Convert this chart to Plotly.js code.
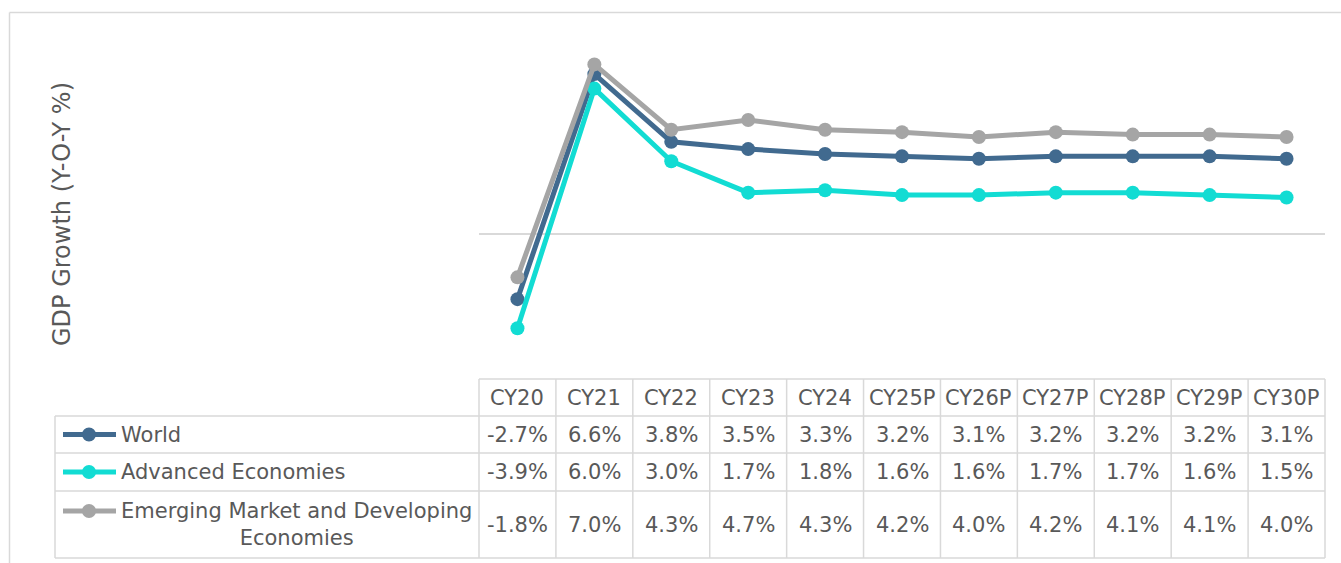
<!DOCTYPE html>
<html>
<head>
<meta charset="utf-8">
<script src="https://cdn.plot.ly/plotly-3.0.1.min.js"></script>
<style>
  body { margin: 0; background: #fff; }
  #chart { width: 1341px; height: 563px; }
</style>
</head>
<body>
<div id="chart"></div>
<script>
// GDP growth, y-o-y %
let categories = ['CY20','CY21','CY22','CY23','CY24','CY25P','CY26P','CY27P','CY28P','CY29P','CY30P'];
let world    = [-2.7, 6.6, 3.8, 3.5, 3.3, 3.2, 3.1, 3.2, 3.2, 3.2, 3.1];
let advanced = [-3.9, 6.0, 3.0, 1.7, 1.8, 1.6, 1.6, 1.7, 1.7, 1.6, 1.5];
let emerging = [-1.8, 7.0, 4.3, 4.7, 4.3, 4.2, 4.0, 4.2, 4.1, 4.1, 4.0];
let seriesNames = ['World', 'Advanced Economies', 'Emerging Market and Developing<br>Economies'];
let seriesColors = ['#416a8f', '#12dcd3', '#a5a5a5'];

const W = 1341, H = 563;
const textColor = '#595959';
const gridColor = '#d9d9d9';
const fontFam = 'DejaVu Sans, Verdana, sans-serif';

function px(x) { return x / W; }
function py(y) { return 1 - y / H; }

// table geometry (pixels)
let tabLeft = 55, colStart = 479, colEnd = 1325;
let colW = (colEnd - colStart) / categories.length;
let rowLines = [379, 416, 453, 491, 558];

let allSeries = [world, advanced, emerging];

let traces = [];
for (let s = 0; s < allSeries.length; s++) {
    traces.push({
        x: categories,
        y: allSeries[s],
        mode: 'lines+markers',
        type: 'scatter',
        hoverinfo: 'skip',
        line: { color: seriesColors[s], width: 5 },
        marker: { color: seriesColors[s], size: 14 },
        showlegend: false
    });
}

let shapes = [];
let annotations = [];

function line(x0, y0, x1, y1, color, width) {
    shapes.push({
        type: 'line', xref: 'paper', yref: 'paper',
        x0: px(x0), y0: py(y0), x1: px(x1), y1: py(y1),
        line: { color: color, width: width }
    });
}

// outer frame
line(9.5, 12.5, W + 2, 12.5, gridColor, 1.5);
line(9.5, 12.5, 9.5, H + 2, gridColor, 1.5);

// table horizontal lines
line(colStart, rowLines[0], colEnd, rowLines[0], gridColor, 1.5);
for (let r = 1; r < rowLines.length; r++) {
    line(tabLeft, rowLines[r], colEnd, rowLines[r], gridColor, 1.5);
}
// table vertical lines
line(tabLeft, rowLines[1], tabLeft, rowLines[4], gridColor, 1.5);
for (let c = 0; c <= categories.length; c++) {
    let xx = colStart + c * colW;
    line(xx, rowLines[0], xx, rowLines[4], gridColor, 1.5);
}

// header text
for (let c = 0; c < categories.length; c++) {
    annotations.push({
        xref: 'paper', yref: 'paper',
        x: px(colStart + (c + 0.5) * colW), y: py((rowLines[0] + rowLines[1]) / 2),
        text: categories[c], showarrow: false,
        xanchor: 'center', yanchor: 'middle',
        font: { family: fontFam, size: 21, color: textColor }
    });
}

// data rows + legend keys
for (let s = 0; s < allSeries.length; s++) {
    let yc = (rowLines[s + 1] + rowLines[s + 2]) / 2;
    let keyY = s == 2 ? rowLines[3] + 20 : yc;
    line(63, keyY, 116, keyY, seriesColors[s], 5);
    shapes.push({
        type: 'circle', xref: 'paper', yref: 'paper',
        x0: px(89 - 7), x1: px(89 + 7), y0: py(keyY - 7), y1: py(keyY + 7),
        fillcolor: seriesColors[s], line: { width: 0 }
    });
    annotations.push({
        xref: 'paper', yref: 'paper',
        x: px(119), y: py(yc),
        text: seriesNames[s], showarrow: false,
        xanchor: 'left', yanchor: 'middle', align: 'center',
        font: { family: fontFam, size: 21, color: textColor }
    });
    for (let c = 0; c < categories.length; c++) {
        annotations.push({
            xref: 'paper', yref: 'paper',
            x: px(colStart + (c + 0.5) * colW), y: py(yc),
            text: allSeries[s][c].toFixed(1) + '%', showarrow: false,
            xanchor: 'center', yanchor: 'middle',
            font: { family: fontFam, size: 21, color: textColor }
        });
    }
}

// y-axis title
annotations.push({
    xref: 'paper', yref: 'paper',
    x: px(62), y: py(214),
    text: 'GDP Growth (Y-O-Y %)', showarrow: false, textangle: -90,
    xanchor: 'center', yanchor: 'middle',
    font: { family: fontFam, size: 24, color: textColor }
});

let layout = {
    width: W,
    height: H,
    margin: { l: 0, r: 0, t: 0, b: 0 },
    paper_bgcolor: '#fff',
    plot_bgcolor: 'rgba(0,0,0,0)',
    xaxis: {
        domain: [px(colStart), px(colEnd)],
        type: 'category',
        range: [-0.5, categories.length - 0.5],
        showgrid: false, showticklabels: false, zeroline: false, showline: false, ticks: ''
    },
    yaxis: {
        domain: [py(379), py(16)],
        range: [-6, 9],
        showgrid: false, showticklabels: false, ticks: '', showline: false,
        zeroline: true, zerolinecolor: gridColor, zerolinewidth: 1.5
    },
    shapes: shapes,
    annotations: annotations,
    showlegend: false
};

Plotly.newPlot('chart', traces, layout, { staticPlot: true });
</script>
</body>
</html>
